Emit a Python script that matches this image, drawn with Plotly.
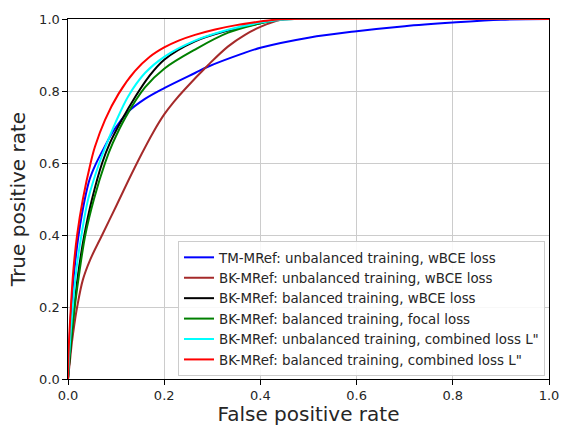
import plotly.graph_objects as go

# Series names (legend)
names = [
    "TM-MRef: unbalanced training, wBCE loss",
    "BK-MRef: unbalanced training, wBCE loss",
    "BK-MRef: balanced training, wBCE loss",
    "BK-MRef: balanced training, focal loss",
    "BK-MRef: unbalanced training, combined loss L\"",
    "BK-MRef: balanced training, combined loss L\"",
]

# ROC points (false positive rate, true positive rate)
tm_unbal_wbce_fpr = [0, 0.003, 0.007, 0.013, 0.022, 0.035, 0.045, 0.057, 0.075, 0.094, 0.125, 0.16, 0.2, 0.264, 0.292, 0.361, 0.4, 0.5, 0.6, 0.7, 0.8, 0.9, 1.0]
tm_unbal_wbce_tpr = [0, 0.1, 0.2, 0.3, 0.4, 0.5, 0.555, 0.595, 0.642, 0.688, 0.742, 0.778, 0.808, 0.85, 0.868, 0.903, 0.92, 0.948, 0.966, 0.98, 0.99, 0.998, 1.0]

bk_unbal_wbce_fpr = [0, 0.004, 0.008, 0.013, 0.019, 0.031, 0.046, 0.071, 0.1, 0.125, 0.153, 0.177, 0.2, 0.22, 0.243, 0.292, 0.333, 0.368, 0.4, 0.44, 0.47, 1.0]
bk_unbal_wbce_tpr = [0, 0.05, 0.1, 0.15, 0.2, 0.276, 0.331, 0.4, 0.48, 0.55, 0.625, 0.685, 0.735, 0.77, 0.805, 0.873, 0.924, 0.956, 0.978, 0.997, 1.0, 1.0]

bk_bal_wbce_fpr = [0, 0.006, 0.013, 0.022, 0.034, 0.05, 0.071, 0.087, 0.112, 0.139, 0.167, 0.2, 0.264, 0.333, 0.4, 0.45, 1.0]
bk_bal_wbce_tpr = [0, 0.1, 0.2, 0.3, 0.4, 0.5, 0.6, 0.655, 0.72, 0.782, 0.838, 0.887, 0.938, 0.968, 0.988, 1.0, 1.0]

bk_bal_focal_fpr = [0, 0.006, 0.014, 0.024, 0.036, 0.054, 0.077, 0.093, 0.12, 0.16, 0.2, 0.264, 0.333, 0.4, 0.45, 1.0]
bk_bal_focal_tpr = [0, 0.1, 0.2, 0.3, 0.4, 0.5, 0.6, 0.655, 0.728, 0.81, 0.862, 0.915, 0.962, 0.988, 1.0, 1.0]

bk_unbal_comb_fpr = [0, 0.004, 0.01, 0.017, 0.028, 0.042, 0.065, 0.077, 0.098, 0.125, 0.16, 0.2, 0.264, 0.333, 0.4, 0.47, 1.0]
bk_unbal_comb_tpr = [0, 0.1, 0.2, 0.3, 0.4, 0.5, 0.6, 0.642, 0.71, 0.785, 0.85, 0.895, 0.94, 0.97, 0.99, 1.0, 1.0]

bk_bal_comb_fpr = [0, 0.002, 0.006, 0.011, 0.019, 0.031, 0.047, 0.056, 0.077, 0.105, 0.139, 0.17, 0.2, 0.23, 0.264, 0.306, 0.35, 0.4, 0.43, 0.46, 1.0]
bk_bal_comb_tpr = [0, 0.1, 0.2, 0.3, 0.4, 0.5, 0.6, 0.645, 0.72, 0.792, 0.855, 0.895, 0.921, 0.94, 0.956, 0.971, 0.983, 0.993, 0.998, 1.0, 1.0]

colors = ["#0000ff", "#a52a2a", "#000000", "#008000", "#00ffff", "#ff0000"]

series = [
    (tm_unbal_wbce_fpr, tm_unbal_wbce_tpr),
    (bk_unbal_wbce_fpr, bk_unbal_wbce_tpr),
    (bk_bal_wbce_fpr, bk_bal_wbce_tpr),
    (bk_bal_focal_fpr, bk_bal_focal_tpr),
    (bk_unbal_comb_fpr, bk_unbal_comb_tpr),
    (bk_bal_comb_fpr, bk_bal_comb_tpr),
]

tick_vals = [0.0, 0.2, 0.4, 0.6, 0.8, 1.0]
tick_text = ["0.0", "0.2", "0.4", "0.6", "0.8", "1.0"]

FONT = "DejaVu Sans"

fig = go.Figure()
for name, (xs, ys), c in zip(names, series, colors):
    fig.add_trace(go.Scatter(x=xs, y=ys, mode="lines", name=name,
                             line=dict(color=c, width=2, shape="spline", smoothing=1.0)))

axis_common = dict(
    range=[0, 1], tickvals=tick_vals, ticktext=tick_text,
    showgrid=True, gridcolor="#cccccc", gridwidth=1.2,
    showline=True, linecolor="#000000", linewidth=1.2, mirror=True,
    ticks="outside", ticklen=4.5, tickcolor="#000000", tickwidth=1,
    tickfont=dict(family=FONT, size=13, color="#262626"),
    zeroline=False, automargin=False,
)

fig.update_layout(
    width=562, height=426,
    margin=dict(l=68, r=13, t=19, b=47),
    paper_bgcolor="white", plot_bgcolor="white",
    font=dict(family=FONT, color="#262626"),
    xaxis=dict(**axis_common, title=dict(text="False positive rate",
               font=dict(family=FONT, size=20, color="#262626"), standoff=8)),
    yaxis=dict(**axis_common, title=dict(text="True positive rate",
               font=dict(family=FONT, size=20, color="#262626"), standoff=8)),
    legend=dict(x=0.9917, xanchor="right", y=0.008, yanchor="bottom",
                bgcolor="rgba(255,255,255,0.85)", bordercolor="#cccccc", borderwidth=1,
                font=dict(family=FONT, size=13.4, color="#262626")),
    showlegend=True,
)

fig.write_html("out.html", config={"displayModeBar": False},
               post_script="document.body.style.margin='0';")
